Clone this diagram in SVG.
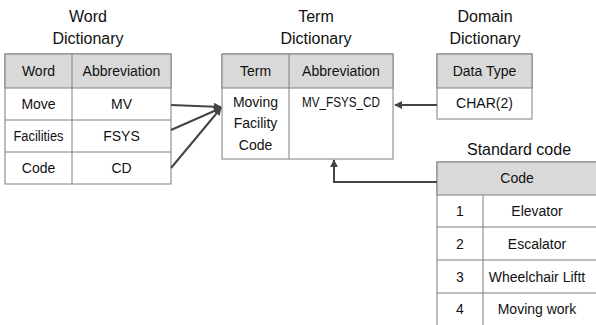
<svg xmlns="http://www.w3.org/2000/svg" width="596" height="325" viewBox="0 0 596 325">
<defs>
<style>
text{font-family:"Liberation Sans","Noto Sans",Arial,sans-serif;fill:#111;text-anchor:middle}
.t{font-size:16px}
.c{font-size:14px}
.hd{fill:#d9d9d9;stroke:#7f7f7f;stroke-width:1}
.bx{fill:#fff;stroke:#7f7f7f;stroke-width:1}
.ln{stroke:#7f7f7f;stroke-width:1;fill:none}
.cn{stroke:#444;stroke-width:2;fill:none}
</style>
<marker id="ah" viewBox="0 0 10 10" refX="9" refY="5" markerWidth="4" markerHeight="4" orient="auto" markerUnits="strokeWidth">
<path d="M0,0 L10,5 L0,10 z" fill="#444"/>
</marker>
</defs>
<rect width="596" height="325" fill="#fff"/>
<g id="word-dictionary">
<text class="t" x="88" y="22">Word</text>
<text class="t" x="88" y="44">Dictionary</text>
<rect class="bx" x="5" y="54" width="166" height="130"/>
<rect class="hd" x="5" y="54" width="166" height="34"/>
<path class="ln" d="M72,54V184M5,120H171M5,152H171"/>
<text class="c" x="38.5" y="76">Word</text>
<text class="c" x="121.5" y="76">Abbreviation</text>
<text class="c" x="38.5" y="109">Move</text>
<text class="c" x="121.5" y="109">MV</text>
<text class="c" x="38.5" y="141" textLength="50" lengthAdjust="spacingAndGlyphs">Facilities</text>
<text class="c" x="121.5" y="141">FSYS</text>
<text class="c" x="38.5" y="173">Code</text>
<text class="c" x="121.5" y="173">CD</text>
</g>
<g id="term-dictionary">
<text class="t" x="316" y="22">Term</text>
<text class="t" x="316" y="44">Dictionary</text>
<rect class="bx" x="222" y="54" width="171" height="105"/>
<rect class="hd" x="222" y="54" width="171" height="34"/>
<path class="ln" d="M289,54V159"/>
<text class="c" x="255.5" y="76">Term</text>
<text class="c" x="341" y="76">Abbreviation</text>
<text class="c" x="255.5" y="107">Moving</text>
<text class="c" x="255.5" y="128">Facility</text>
<text class="c" x="255.5" y="150">Code</text>
<text class="c" x="341" y="107" textLength="78" lengthAdjust="spacingAndGlyphs">MV_FSYS_CD</text>
</g>
<g id="domain-dictionary">
<text class="t" x="485" y="22">Domain</text>
<text class="t" x="485" y="44">Dictionary</text>
<rect class="bx" x="437" y="54" width="95" height="65"/>
<rect class="hd" x="437" y="54" width="95" height="34"/>
<text class="c" x="484.5" y="76">Data Type</text>
<text class="c" x="484.5" y="108">CHAR(2)</text>
</g>
<g id="standard-code">
<text class="t" x="519" y="155">Standard code</text>
<rect class="bx" x="437" y="162" width="161" height="165"/>
<rect class="hd" x="437" y="162" width="161" height="33"/>
<path class="ln" d="M483,195V327M437,227H598M437,260H598M437,293H598"/>
<text class="c" x="517" y="183">Code</text>
<text class="c" x="460" y="216">1</text>
<text class="c" x="537" y="216">Elevator</text>
<text class="c" x="460" y="249">2</text>
<text class="c" x="537" y="249">Escalator</text>
<text class="c" x="460" y="282">3</text>
<text class="c" x="537" y="282">Wheelchair  Liftt</text>
<text class="c" x="460" y="314">4</text>
<text class="c" x="537" y="314">Moving work</text>
</g>
<g id="connectors">
<path class="cn" d="M171,105L221,107" marker-end="url(#ah)"/>
<path class="cn" d="M171,130L221,108" marker-end="url(#ah)"/>
<path class="cn" d="M171,168L221,108" marker-end="url(#ah)"/>
<path class="cn" d="M437,105H395" marker-end="url(#ah)"/>
<path class="cn" d="M437,182H334V160" marker-end="url(#ah)"/>
</g>
</svg>
